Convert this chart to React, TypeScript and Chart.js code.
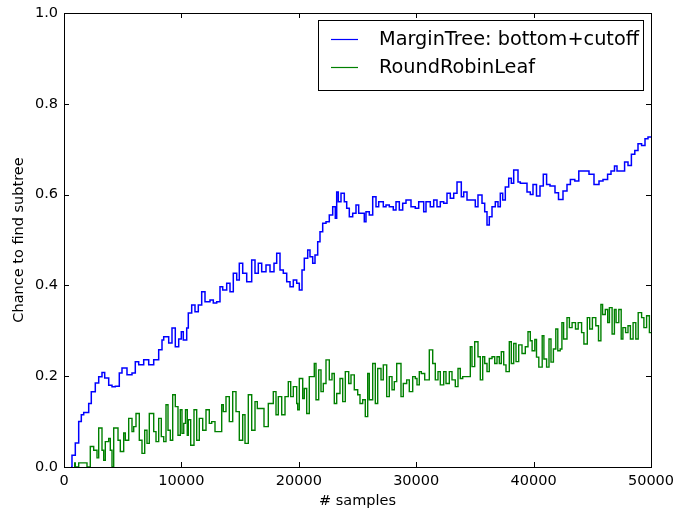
import React, { useEffect, useRef } from 'react';
import { Chart, registerables } from 'chart.js';

Chart.register(...registerables);

const xTickValues = [0, 10000, 20000, 30000, 40000, 50000];
const yTickValues = [0, 0.2, 0.4, 0.6, 0.8, 1.0];
const seriesLabels = ['MarginTree: bottom+cutoff', 'RoundRobinLeaf'];
const seriesColors = ['#0000ff', '#008000'];
const xTitle = '# samples';
const yTitle = 'Chance to find subtree';

const marginSamples = [
  600, 681, 963, 1252, 1474, 1678, 2104, 2325, 2666, 2956,
  3237, 3467, 3808, 4089, 4370, 4710, 4940, 5366, 5792, 6073,
  6363, 6789, 7215, 7641, 8066, 8348, 8492, 8918, 9199, 9480,
  9770, 9992, 10162, 10452, 10588, 10877, 11158, 11440, 11729, 12010,
  12436, 12717, 13007, 13288, 13518, 13859, 14140, 14421, 14711, 14932,
  15222, 15563, 15988, 16270, 16551, 16840, 17206, 17547, 17888, 18118,
  18399, 18680, 18970, 19251, 19532, 19822, 20043, 20273, 20469, 20759,
  20954, 21184, 21380, 21610, 21806, 22036, 22317, 22598, 22888, 23109,
  23228, 23365, 23595, 23876, 24080, 24302, 24591, 24872, 25102, 25298,
  25579, 25724, 26005, 26295, 26576, 26806, 27198, 27428, 27709, 28049,
  28280, 28561, 28850, 29131, 29557, 29923, 30213, 30639, 30835, 31201,
  31491, 31772, 32053, 32343, 32624, 32905, 33195, 33476, 33842, 34046,
  34327, 34608, 35034, 35264, 35605, 35835, 36031, 36227, 36457, 36738,
  36968, 37164, 37368, 37590, 37879, 38101, 38305, 38671, 38867, 39157,
  39438, 39719, 39949, 40247, 40545, 40826, 41107, 41397, 41823, 42121,
  42504, 42845, 43134, 43509, 43850, 44293, 44719, 45145, 45571, 45911,
  46303, 46593, 46891, 47104, 47317, 47751, 48041, 48330, 48620, 48893,
  49199, 49489, 49744, 50000,
];
const marginValues = [
  0, 0, 0.026, 0.053, 0.10, 0.115, 0.12, 0.14, 0.166, 0.185,
  0.199, 0.208, 0.196, 0.18, 0.177, 0.178, 0.207, 0.218, 0.203, 0.207,
  0.232, 0.225, 0.236, 0.225, 0.236, 0.258, 0.28, 0.287, 0.273, 0.306,
  0.265, 0.282, 0.298, 0.28, 0.306, 0.339, 0.357, 0.342, 0.357, 0.386,
  0.364, 0.368, 0.361, 0.364, 0.397, 0.39, 0.405, 0.386, 0.427, 0.412,
  0.449, 0.427, 0.408, 0.456, 0.427, 0.449, 0.43, 0.445, 0.43, 0.449,
  0.471, 0.434, 0.427, 0.408, 0.397, 0.412, 0.405, 0.39, 0.434, 0.46,
  0.478, 0.463, 0.449, 0.467, 0.496, 0.518, 0.537, 0.54, 0.555, 0.573,
  0.548, 0.606, 0.584, 0.603, 0.584, 0.57, 0.551, 0.559, 0.577, 0.559,
  0.559, 0.54, 0.562, 0.555, 0.595, 0.573, 0.584, 0.573, 0.577, 0.573,
  0.566, 0.584, 0.566, 0.581, 0.588, 0.573, 0.57, 0.584, 0.562, 0.584,
  0.573, 0.588, 0.573, 0.584, 0.581, 0.603, 0.592, 0.603, 0.628, 0.595,
  0.606, 0.588, 0.588, 0.573, 0.599, 0.581, 0.562, 0.533, 0.551, 0.573,
  0.584, 0.573, 0.603, 0.588, 0.617, 0.636, 0.625, 0.654, 0.628, 0.625,
  0.625, 0.606, 0.6, 0.622, 0.597, 0.619, 0.645, 0.622, 0.619, 0.604,
  0.589, 0.608, 0.622, 0.633, 0.63, 0.652, 0.652, 0.645, 0.622, 0.63,
  0.633, 0.645, 0.652, 0.663, 0.652, 0.652, 0.672, 0.664, 0.689, 0.697,
  0.712, 0.708, 0.723, 0.727,
];

const roundRobinSamples = [
  911, 963, 1252, 1959, 2240, 2530, 2811, 2956, 3237, 3382,
  3518, 3808, 3944, 4089, 4233, 4600, 4796, 5085, 5222, 5511,
  5792, 5937, 6133, 6414, 6644, 6874, 7070, 7266, 7641, 7837,
  8066, 8288, 8492, 8688, 8859, 9055, 9259, 9480, 9710, 9906,
  10050, 10200, 10350, 10500, 10588, 10792, 11073, 11303, 11525, 11815,
  12096, 12376, 12581, 12862, 13092, 13433, 13569, 13799, 14080, 14370,
  14651, 14932, 15222, 15418, 15699, 15988, 16270, 16465, 16695, 17036,
  17402, 17547, 17828, 18058, 18254, 18544, 18825, 19106, 19311, 19532,
  19822, 19907, 20043, 20333, 20469, 20674, 20894, 21039, 21320, 21465,
  21695, 21891, 22087, 22317, 22598, 22828, 23024, 23228, 23509, 23740,
  23961, 24251, 24446, 24727, 25017, 25213, 25443, 25664, 25869, 26005,
  26295, 26516, 26721, 27002, 27198, 27487, 27709, 27939, 28135, 28339,
  28705, 28901, 29191, 29412, 29702, 29923, 30068, 30264, 30434, 30724,
  30835, 31116, 31406, 31627, 31857, 32053, 32343, 32538, 32820, 33049,
  33331, 33561, 33757, 33961, 34242, 34608, 34753, 34983, 35264, 35460,
  35664, 35835, 36031, 36227, 36457, 36687, 36883, 37079, 37249, 37453,
  37649, 37930, 38101, 38305, 38501, 38731, 39012, 39293, 39523, 39719,
  39873, 40103, 40247, 40444, 40733, 40878, 41107, 41312, 41482, 41687,
  41891, 42061, 42266, 42411, 42556, 42845, 43049, 43279, 43569, 43799,
  44088, 44284, 44574, 44778, 45008, 45298, 45528, 45733, 45877, 46107,
  46312, 46457, 46687, 46883, 47027, 47257, 47462, 47607, 47837, 48041,
  48245, 48475, 48705, 48910, 49199, 49395, 49625, 49863, 50000,
];
const roundRobinValues = [
  0, 0.009, 0, 0.009, 0, 0.045, 0.037, 0.02, 0.086, 0.037,
  0.015, 0.056, 0.063, 0.037, 0, 0.086, 0.059, 0.034, 0.075, 0.059,
  0.107, 0.078, 0.089, 0.118, 0.059, 0.03, 0.081, 0.052, 0.118, 0.078,
  0.056, 0.107, 0.067, 0.056, 0.137, 0.081, 0.059, 0.159, 0.133, 0.07,
  0.126, 0.074, 0.096, 0.126, 0.07, 0.104, 0.048, 0.126, 0.059, 0.107,
  0.081, 0.126, 0.096, 0.1, 0.078, 0.078, 0.137, 0.122, 0.155, 0.1,
  0.166, 0.122, 0.059, 0.115, 0.052, 0.159, 0.081, 0.144, 0.129, 0.129,
  0.089, 0.14, 0.14, 0.166, 0.115, 0.155, 0.115, 0.155, 0.188, 0.155,
  0.177, 0.14, 0.126, 0.195, 0.151, 0.173, 0.118, 0.199, 0.199, 0.228,
  0.148, 0.214, 0.166, 0.184, 0.236, 0.192, 0.206, 0.14, 0.162, 0.195,
  0.144, 0.21, 0.184, 0.203, 0.17, 0.159, 0.14, 0.148, 0.111, 0.206,
  0.148, 0.228, 0.14, 0.217, 0.192, 0.225, 0.155, 0.199, 0.17, 0.188,
  0.228, 0.155, 0.184, 0.192, 0.166, 0.199, 0.195, 0.181, 0.21, 0.206,
  0.192, 0.192, 0.258, 0.228, 0.192, 0.21, 0.181, 0.21, 0.184, 0.21,
  0.192, 0.177, 0.217, 0.195, 0.199, 0.199, 0.265, 0.221, 0.276, 0.243,
  0.192, 0.243, 0.228, 0.21, 0.239, 0.243, 0.228, 0.243, 0.228, 0.254,
  0.225, 0.21, 0.276, 0.228, 0.272, 0.232, 0.269, 0.25, 0.265, 0.298,
  0.278, 0.256, 0.281, 0.242, 0.22, 0.289, 0.238, 0.22, 0.282, 0.231,
  0.26, 0.304, 0.256, 0.26, 0.318, 0.282, 0.329, 0.307, 0.318, 0.304,
  0.318, 0.296, 0.271, 0.329, 0.304, 0.329, 0.311, 0.278, 0.358, 0.336,
  0.347, 0.318, 0.351, 0.293, 0.347, 0.318, 0.347, 0.282, 0.307, 0.296,
  0.311, 0.282, 0.318, 0.282, 0.34, 0.329, 0.307, 0.333, 0.296,
];

const FONT = '"DejaVu Sans", "Liberation Sans", sans-serif';

const framePlugin = {
  id: 'mplFrame',
  afterDatasetsDraw(chart: any) {
    const { ctx, chartArea: a, scales } = chart;
    ctx.save();
    ctx.strokeStyle = '#000';
    ctx.lineWidth = 1;
    const L = 5;
    const line = (x1: number, y1: number, x2: number, y2: number) => {
      ctx.beginPath();
      ctx.moveTo(x1, y1);
      ctx.lineTo(x2, y2);
      ctx.stroke();
    };
    scales.x.ticks.forEach((t: any) => {
      const px = Math.round(scales.x.getPixelForValue(t.value)) + 0.5;
      line(px, a.bottom, px, a.bottom - L);
      line(px, a.top, px, a.top + L);
    });
    scales.y.ticks.forEach((t: any) => {
      const py = Math.round(scales.y.getPixelForValue(t.value)) + 0.5;
      line(a.left, py, a.left + L, py);
      line(a.right, py, a.right - L, py);
    });
    ctx.strokeRect(Math.round(a.left) + 0.5, Math.round(a.top) + 0.5, Math.round(a.right - a.left), Math.round(a.bottom - a.top));

    // legend box, upper right inside the axes
    const w = 325;
    const h = 70;
    const left = Math.round(a.right - 8 - w);
    const top = Math.round(a.top + 7);
    ctx.fillStyle = '#fff';
    ctx.fillRect(left, top, w, h);
    ctx.strokeRect(left + 0.5, top + 0.5, w, h);
    chart.data.datasets.forEach((ds: any, i: number) => {
      const y = top + 19 + i * 28;
      ctx.strokeStyle = ds.borderColor;
      ctx.lineWidth = 1.2;
      line(left + 13, y + 0.5, left + 40, y + 0.5);
      ctx.fillStyle = '#000';
      ctx.font = `19.3px ${FONT}`;
      ctx.textBaseline = 'middle';
      ctx.textAlign = 'left';
      ctx.fillText(ds.label, left + 61, y + 1);
    });
    ctx.restore();
  },
};

export default function App() {
  const canvasRef = useRef<HTMLCanvasElement | null>(null);

  useEffect(() => {
    document.body.style.margin = '0';
    const canvas = canvasRef.current;
    if (!canvas) return;
    const toPoints = (xs: number[], ys: number[]) => xs.map((x, i) => ({ x, y: ys[i] }));
    const chart = new Chart(canvas, {
      type: 'line',
      data: {
        datasets: [
          {
            label: seriesLabels[0],
            data: toPoints(marginSamples, marginValues),
            borderColor: seriesColors[0],
            backgroundColor: seriesColors[0],
            borderWidth: 1.5,
            pointRadius: 0,
            stepped: 'after',
            fill: false,
          },
          {
            label: seriesLabels[1],
            data: toPoints(roundRobinSamples, roundRobinValues),
            borderColor: seriesColors[1],
            backgroundColor: seriesColors[1],
            borderWidth: 1.4,
            pointRadius: 0,
            stepped: 'after',
            fill: false,
          },
        ],
      },
      options: {
        animation: false,
        responsive: false,
        devicePixelRatio: 1,
        layout: { padding: { left: 0, right: 26, top: 13, bottom: 0 } },
        plugins: {
          legend: { display: false },
          tooltip: { enabled: false },
        },
        scales: {
          x: {
            type: 'linear',
            min: 0,
            max: 50000,
            afterBuildTicks: (scale: any) => {
              scale.ticks = xTickValues.map((v) => ({ value: v }));
            },
            afterFit: (scale: any) => {
              scale.height = 45;
              scale.paddingLeft = 0;
              scale.paddingRight = 0;
            },
            grid: { display: false, drawTicks: false },
            border: { display: false },
            ticks: {
              color: '#000',
              padding: 6,
              maxRotation: 0,
              font: { family: FONT, size: 14.5 },
              callback: (v: any) => String(v),
            },
            title: {
              display: true,
              text: xTitle,
              color: '#000',
              font: { family: FONT, size: 14.5 },
              padding: { top: 0, bottom: 2 },
            },
          },
          y: {
            type: 'linear',
            min: 0,
            max: 1,
            afterBuildTicks: (scale: any) => {
              scale.ticks = yTickValues.map((v) => ({ value: v }));
            },
            afterFit: (scale: any) => {
              scale.width = 64;
              scale.paddingTop = 0;
              scale.paddingBottom = 0;
            },
            grid: { display: false, drawTicks: false },
            border: { display: false },
            ticks: {
              color: '#000',
              padding: 6,
              font: { family: FONT, size: 14.5 },
              callback: (v: any) => Number(v).toFixed(1),
            },
            title: {
              display: true,
              text: yTitle,
              color: '#000',
              font: { family: FONT, size: 14.5 },
              padding: { top: 11, bottom: 0 },
            },
          },
        },
      },
      plugins: [framePlugin],
    });
    return () => chart.destroy();
  }, []);

  return (
    <div style={{ width: 677, height: 512, background: '#fff' }}>
      <canvas ref={canvasRef} width={677} height={512} style={{ display: 'block' }} />
    </div>
  );
}
